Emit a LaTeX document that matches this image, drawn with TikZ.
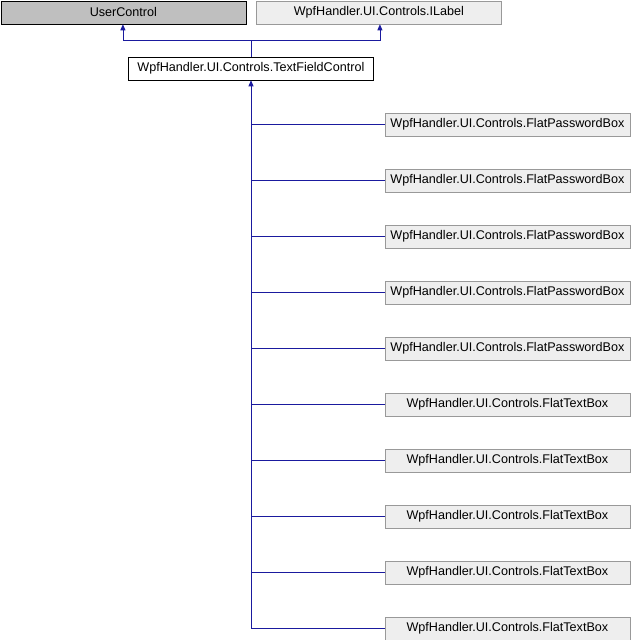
\documentclass[tikz,border=0pt]{standalone}
\usepackage{fontspec}
\setmainfont{Liberation Sans}
\usetikzlibrary{arrows.meta}
\definecolor{edgeblue}{HTML}{1A1A9E}
\definecolor{grayfill}{HTML}{BFBFBF}
\definecolor{lightfill}{HTML}{EEEEEE}
\definecolor{lightborder}{HTML}{999999}
\begin{document}
\begin{tikzpicture}[x=1pt,y=-1pt,
  cls/.style={draw=black, line width=0.8pt, minimum width=245pt, minimum height=23pt, inner sep=0pt, font=\fontsize{12.6}{14}\selectfont, anchor=north west},
  basecls/.style={cls, fill=grayfill},
  extcls/.style={cls, fill=lightfill, draw=lightborder},
  mainc/.style={cls, fill=white},
  edge/.style={draw=edgeblue, line width=0.8pt},
  inh/.style={edge, -{Triangle[length=6pt,width=5pt]}},
]
\useasboundingbox (0,0) rectangle (630,640);
\node[basecls] (uc) at (0.5,0.5) {UserControl};
\node[extcls] (il) at (256,0.5) {WpfHandler.UI.Controls.ILabel};
\node[mainc] (tf) at (128,56.5) {WpfHandler.UI.Controls.TextFieldControl};
\coordinate (j) at (251,40);
\draw[edge] (tf.north -| j) -- (j);
\draw[inh] (j) -| ([xshift=-0.5pt]uc.south);
\draw[inh] (j) -| ([xshift=1pt]il.south);
\foreach \i/\t in {0/FlatPasswordBox,1/FlatPasswordBox,2/FlatPasswordBox,3/FlatPasswordBox,4/FlatPasswordBox,5/FlatTextBox,6/FlatTextBox,7/FlatTextBox,8/FlatTextBox,9/FlatTextBox}{
  \node[extcls] (c\i) at (384.5,{112.5+56*\i}) {WpfHandler.UI.Controls.\t};
}
\coordinate (b) at (251,628);
\draw[inh] (b) -- (b |- tf.south);
\foreach \i in {0,...,9}{
  \draw[edge] (c\i.west) -- (c\i.west -| b);
}
\end{tikzpicture}
\end{document}
